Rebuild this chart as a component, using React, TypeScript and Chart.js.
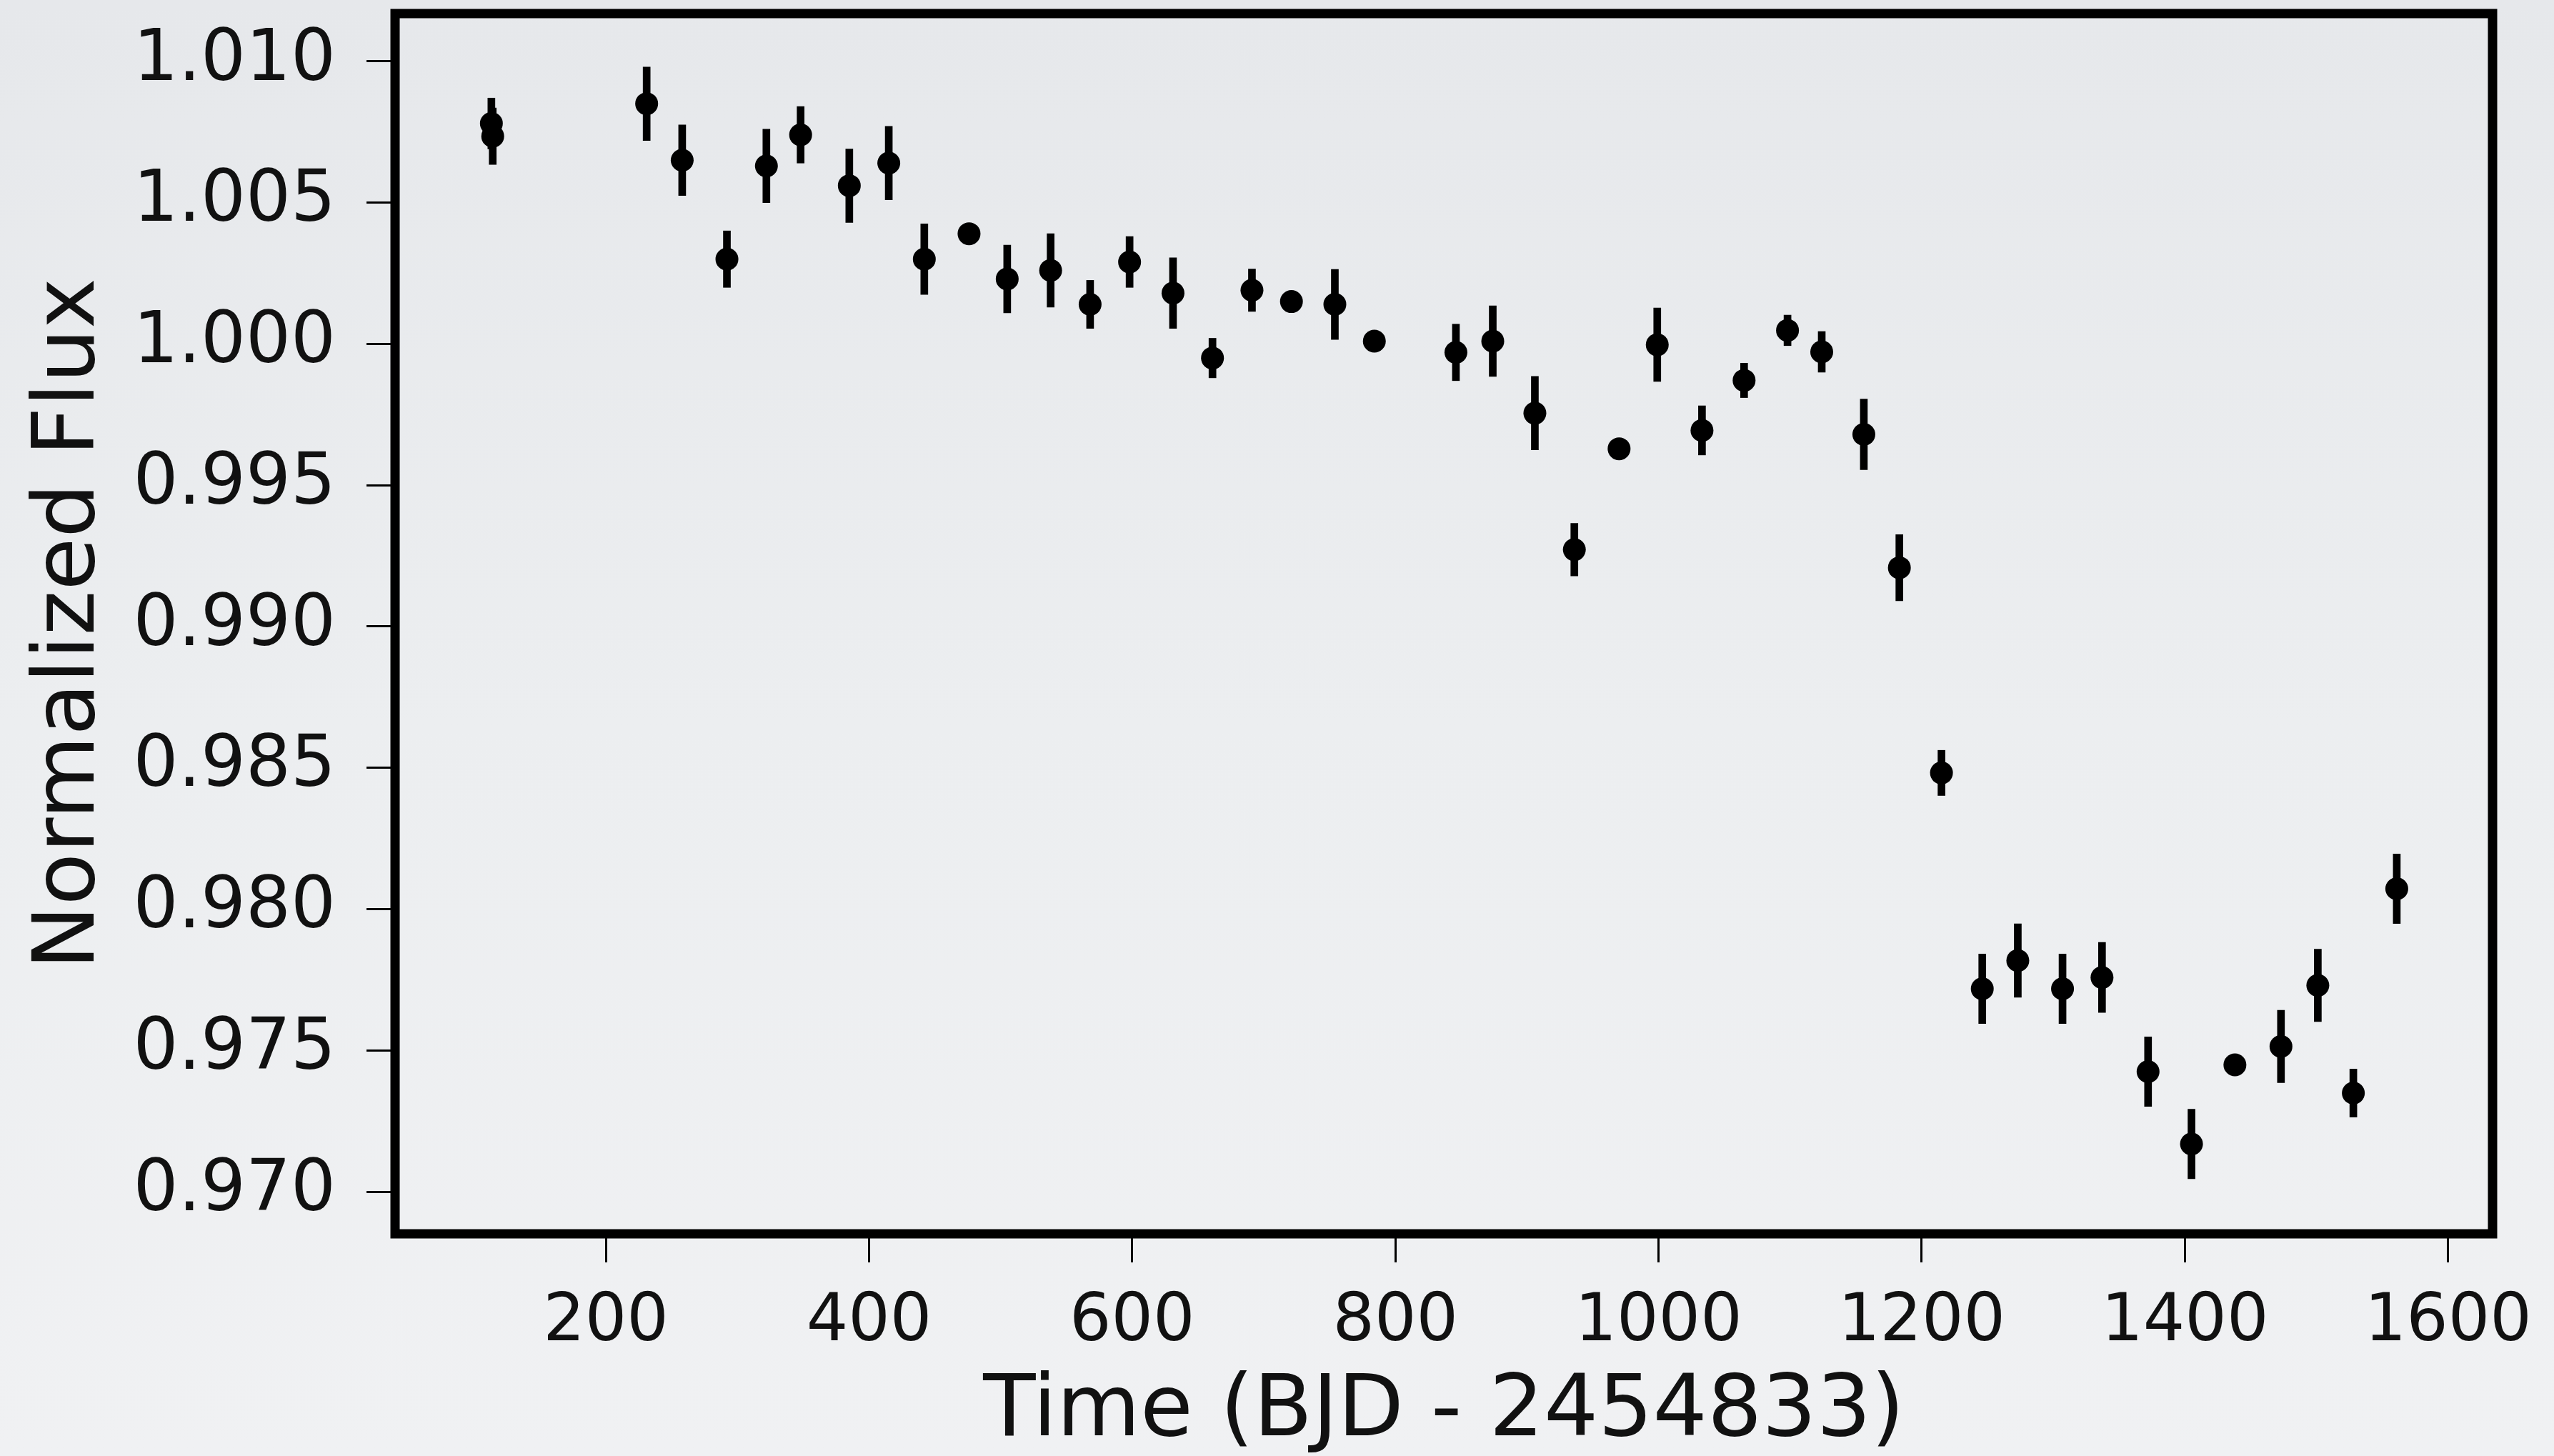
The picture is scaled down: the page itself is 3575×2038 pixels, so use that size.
import React, { useEffect, useRef } from "react";
import { Chart, registerables } from "chart.js";

Chart.register(...registerables);

// Time (BJD - 2454833)
const times = [113, 114, 231, 258, 292, 322, 348, 385, 415, 442, 476, 505, 538, 568, 598, 631, 661, 691, 721, 754, 784, 846, 874, 906, 936, 970, 999, 1033, 1065, 1098, 1124, 1156, 1183, 1215, 1246, 1273, 1307, 1337, 1372, 1405, 1438, 1473, 1501, 1528, 1561];
// Normalized flux
const flux = [1.0078, 1.00735, 1.0085, 1.0065, 1.0030, 1.0063, 1.0074, 1.0056, 1.0064, 1.0030, 1.0039, 1.0023, 1.0026, 1.0014, 1.0029, 1.0018, 0.9995, 1.0019, 1.0015, 1.0014, 1.0001, 0.9997, 1.0001, 0.99755, 0.99272, 0.99629, 0.99997, 0.99694, 0.99871, 1.00048, 0.99972, 0.9968, 0.99208, 0.98482, 0.97718, 0.97818, 0.97718, 0.97758, 0.97425, 0.97169, 0.97449, 0.97514, 0.9773, 0.97349, 0.98072];
// 1-sigma uncertainties
const fluxErr = [0.0009, 0.001, 0.0013, 0.00125, 0.001, 0.0013, 0.001, 0.0013, 0.0013, 0.00125, 0.0002, 0.0012, 0.0013, 0.00085, 0.0009, 0.00125, 0.0007, 0.00075, 0.0003, 0.00124, 0.0002, 0.001, 0.00125, 0.0013, 0.00093, 0.0002, 0.0013, 0.00087, 0.00061, 0.00054, 0.00072, 0.00125, 0.00117, 0.0008, 0.00123, 0.0013, 0.00123, 0.00124, 0.00123, 0.00123, 0.0002, 0.00128, 0.00128, 0.00085, 0.00123];

const xTicks = [200, 400, 600, 800, 1000, 1200, 1400, 1600];
const yTicks = [0.970, 0.975, 0.980, 0.985, 0.990, 0.995, 1.000, 1.005, 1.010];

const X_MIN = 39.8;
const X_MAX = 1633.8;
const Y_MIN = 0.96851;
const Y_MAX = 1.01169;

const W = 3575;
const H = 2038;

const framePlugin = {
  id: "frame",
  afterDatasetsDraw(chart: any) {
    const { ctx, chartArea } = chart;
    ctx.save();
    ctx.strokeStyle = "#000";
    ctx.lineWidth = 13;
    ctx.lineJoin = "miter";
    ctx.strokeRect(chartArea.left, chartArea.top, chartArea.right - chartArea.left, chartArea.bottom - chartArea.top);
    ctx.restore();
  },
};

export default function App() {
  const ref = useRef<HTMLCanvasElement | null>(null);

  useEffect(() => {
    if (!ref.current) return;
    Chart.defaults.font.family = "'DejaVu Sans', sans-serif";
    const xTickFont = { family: "'DejaVu Sans', sans-serif", size: 92 };
    const yTickFont = { family: "'DejaVu Sans', sans-serif", size: 99 };
    const titleFont = { family: "'DejaVu Sans', sans-serif", size: 120, lineHeight: 1 };

    const chart = new Chart(ref.current, {
      type: "scatter",
      data: {
        datasets: [
          {
            type: "bar",
            data: times.map((t, i) => ({ x: t, y: [flux[i] - fluxErr[i], flux[i] + fluxErr[i]] })),
            backgroundColor: "#000",
            borderWidth: 0,
            barThickness: 10,
            grouped: false,
          } as any,
          {
            type: "scatter",
            data: times.map((t, i) => ({ x: t, y: flux[i] })),
            backgroundColor: "#000",
            borderWidth: 0,
            pointRadius: 16,
            pointHoverRadius: 16,
          },
        ],
      },
      options: {
        responsive: false,
        animation: false,
        devicePixelRatio: 1,
        layout: { padding: { left: 0, top: 19, right: 86, bottom: 0 } },
        plugins: { legend: { display: false }, tooltip: { enabled: false } },
        scales: {
          x: {
            type: "linear",
            min: X_MIN,
            max: X_MAX,
            offset: false,
            afterBuildTicks: (s: any) => {
              s.ticks = xTicks.map((v) => ({ value: v }));
            },
            afterFit: (s: any) => {
              s.height = 311;
              s.paddingLeft = 0;
              s.paddingRight = 0;
              s.paddingTop = 0;
              s.paddingBottom = 0;
            },
            grid: {
              display: true,
              drawOnChartArea: false,
              drawTicks: true,
              tickLength: 40,
              tickWidth: 3,
              tickColor: "#000",
              offset: false,
            },
            border: { display: false },
            ticks: {
              font: xTickFont,
              color: "#111",
              padding: 30,
              maxRotation: 0,
              autoSkip: false,
              callback: (v: any) => String(v),
            },
            title: {
              display: true,
              text: "Time (BJD - 2454833)",
              font: titleFont,
              color: "#111",
              padding: { top: 0, bottom: 0 },
            },
          },
          y: {
            type: "linear",
            min: Y_MIN,
            max: Y_MAX,
            beginAtZero: false,
            afterBuildTicks: (s: any) => {
              s.ticks = yTicks.map((v) => ({ value: v }));
            },
            afterFit: (s: any) => {
              s.width = 553;
              s.paddingLeft = 0;
              s.paddingRight = 0;
              s.paddingTop = 0;
              s.paddingBottom = 0;
            },
            grid: {
              display: true,
              drawOnChartArea: false,
              drawTicks: true,
              tickLength: 40,
              tickWidth: 3,
              tickColor: "#000",
            },
            border: { display: false },
            ticks: {
              font: yTickFont,
              color: "#111",
              padding: 43,
              autoSkip: false,
              callback: (v: any) => Number(v).toFixed(3),
            },
            title: {
              display: true,
              text: "Normalized Flux",
              font: titleFont,
              color: "#111",
              padding: { top: 40, bottom: 0 },
            },
          },
        },
      },
      plugins: [framePlugin],
    } as any);
    return () => chart.destroy();
  }, []);

  return (
    <div
      style={{
        position: "fixed",
        left: 0,
        top: 0,
        width: W,
        height: H,
        background: "linear-gradient(180deg, #E6E8EB 0%, #ECEEF0 50%, #F0F1F3 100%)",
      }}
    >
      <canvas ref={ref} width={W} height={H} style={{ display: "block", width: W, height: H }} />
    </div>
  );
}
